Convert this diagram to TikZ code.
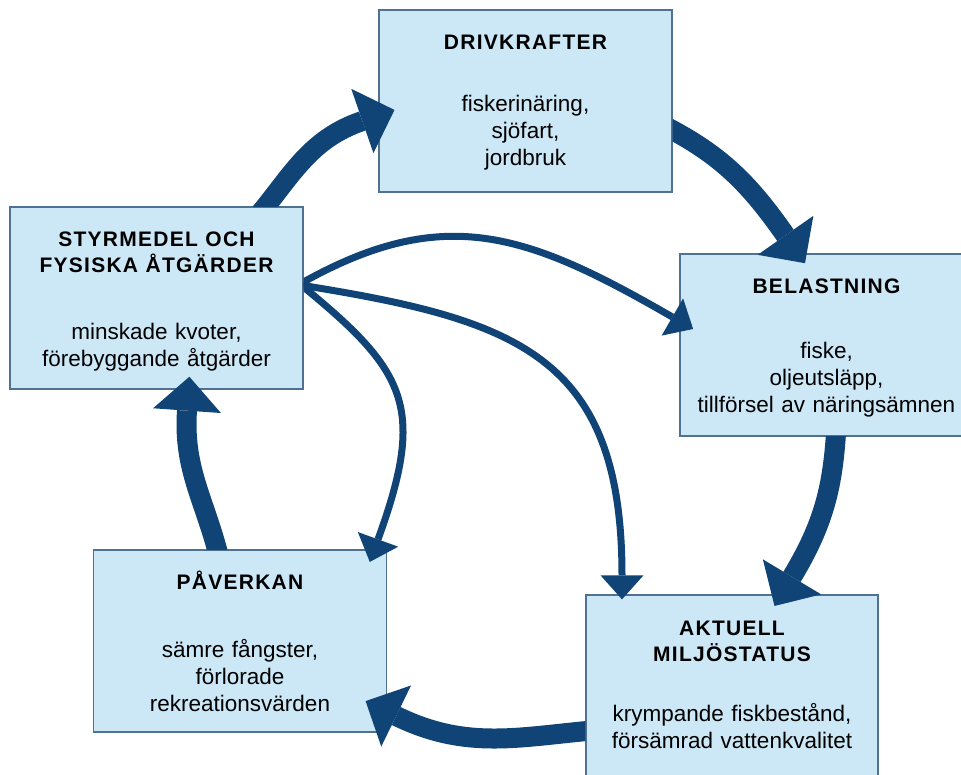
\documentclass[tikz,border=0pt]{standalone}
\usepackage{fontspec}
\setmainfont{Liberation Sans}
\newfontfamily\rubrikfont[LetterSpace=6]{Liberation Sans}
\usetikzlibrary{arrows.meta, calc}
\definecolor{ljusbla}{RGB}{204,232,246}
\definecolor{kant}{RGB}{80,114,146}
\definecolor{pilbla}{RGB}{16,68,118}
\newcommand{\rubrik}[2]{{\rubrikfont\bfseries\fontsize{21}{26}\selectfont #1\par}\vspace{#2}}

\begin{document}
\begin{tikzpicture}[
    x=1pt, y=1pt,
    ruta/.style={rectangle, draw=kant, fill=ljusbla, line width=1.3pt, minimum width=293pt, minimum height=182pt, text width=285pt, inner sep=0pt, text height=40pt, text depth=142pt, align=center, font=\fontsize{22.5}{27}\selectfont},
    storpil/.style={draw=pilbla, line width=20pt, shorten >=-34pt, -{Triangle[width=68pt, length=34pt, line width=0pt]}},
    smalpil/.style={draw=pilbla, line width=7pt, shorten >=-24pt, -{Triangle[width=43pt, length=24pt, line width=0pt]}}
]
    \coordinate (nere) at (0,0);
    \coordinate (uppe) at (961,774);
    \useasboundingbox (nere) rectangle (uppe);
    \clip (nere) rectangle (uppe);
    \fill[white] (nere) rectangle (uppe);

    % rutorna
    \node[ruta] (driv) at (525.5,673) {\rubrik{DRIVKRAFTER}{35pt}fiskerinäring,\\sjöfart,\\jordbruk};
    \node[ruta] (bel) at (826.5,429) {\rubrik{BELASTNING}{38pt}fiske,\\oljeutsläpp,\\tillförsel av näringsämnen};
    \node[ruta, minimum width=292pt] (akt) at (732,88) {\rubrik{AKTUELL\\MILJÖSTATUS}{33pt}krympande fiskbestånd,\\försämrad vattenkvalitet};
    \node[ruta] (pav) at (240,133) {\rubrik{PÅVERKAN}{41pt}sämre fångster,\\förlorade\\rekreationsvärden};
    \node[ruta] (styr) at (156.5,476) {\rubrik{STYRMEDEL OCH\\FYSISKA ÅTGÄRDER}{40pt}minskade kvoter,\\förebyggande åtgärder};

    % kretsloppet
    \begin{scope}
        \clip (nere |- styr.north) rectangle (uppe);
        \draw[storpil] ([shift={(99.5,-12)}]styr.north) to[out=50, in=199] ([shift={(-16,-20)}]driv.west);
    \end{scope}
    \begin{scope}
        \clip (driv.east |- nere) rectangle (uppe);
        \draw[storpil] ([shift={(-10,-24)}]driv.east) to[out=-27, in=125] ([shift={(-41,18)}]bel.north);
    \end{scope}
    \begin{scope}
        \clip (nere) rectangle (uppe |- bel.south);
        \draw[storpil] ([shift={(10,12)}]bel.south) to[out=-93, in=59] ([shift={(60,17.5)}]akt.north);
    \end{scope}
    \begin{scope}
        \clip (nere) rectangle (akt.west |- uppe);
        \draw[storpil] ([shift={(12,-44)}]akt.west) to[out=185, in=-26] ([shift={(9,-75)}]pav.east);
    \end{scope}
    \begin{scope}
        \clip (nere |- pav.north) rectangle (uppe);
        \draw[storpil] ([shift={(-20,-12)}]pav.north) to[out=103, in=-94] ([shift={(30.5,-21)}]styr.south);
    \end{scope}

    % styrmedlens verkan
    \begin{scope}
        \clip (styr.east |- nere) rectangle (uppe);
        \draw[smalpil] ([shift={(-9,11)}]styr.east) to[out=30, in=150, looseness=1.15] ([shift={(-7,28)}]bel.west);
        \draw[smalpil] ([shift={(-10,14)}]styr.east) to[out=-9, in=90, looseness=1.3] ([shift={(-110,19)}]akt.north);
        \draw[smalpil] ([shift={(-10,19)}]styr.east) to[out=-39, in=70, looseness=1.35] ([shift={(138,10)}]pav.north);
    \end{scope}
\end{tikzpicture}
\end{document}
